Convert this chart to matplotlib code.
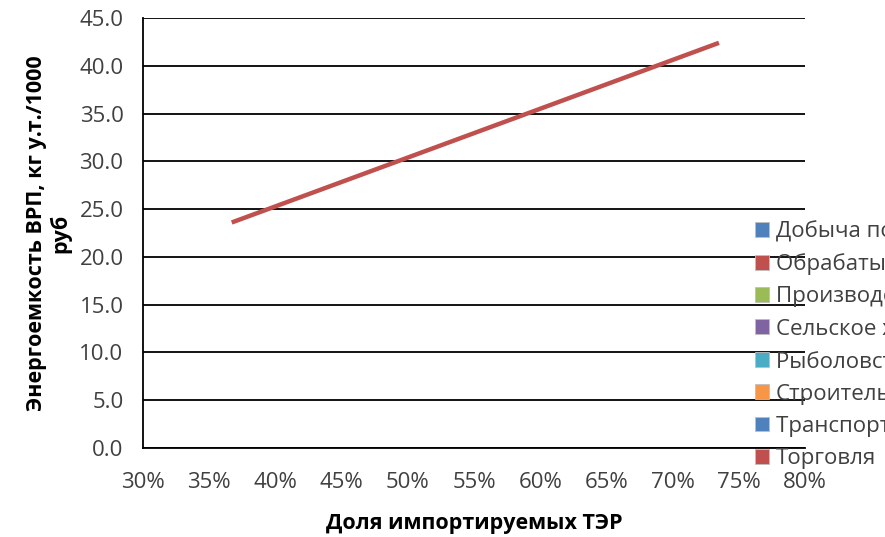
import matplotlib.pyplot as plt
from matplotlib.patches import Patch
from matplotlib.ticker import PercentFormatter

# Energy intensity of GRP vs share of imported fuel and energy resources
import_share = [0.367, 0.735]
energy_intensity = [23.6, 42.4]

sectors = [
    'Добыча полезных ископаемых',
    'Обрабатывающие производства',
    'Производство и распределение электроэнергии, газа и воды',
    'Сельское хозяйство, охота и лесное хозяйство',
    'Рыболовство, рыбоводство',
    'Строительство',
    'Транспорт и связь',
    'Торговля',
]
sector_colors = ['#4F81BD', '#C0504D', '#9BBB59', '#8064A2',
                 '#4BACC6', '#F79646', '#4F81BD', '#C0504D']

plt.rcParams['font.family'] = ['Open Sans', 'DejaVu Sans']

fig = plt.figure(figsize=(8.85, 5.37), dpi=100)
ax = fig.add_axes([143 / 885, 1 - 448 / 537, 662 / 885, 430 / 537])

ax.plot(import_share, energy_intensity, color='#C0504D', linewidth=3.2,
        solid_capstyle='butt', zorder=3)

ax.set_xlim(0.30, 0.80)
ax.set_ylim(0, 45)
ax.set_xticks([0.30 + 0.05 * i for i in range(11)])
ax.set_yticks([5 * i for i in range(10)])
ax.xaxis.set_major_formatter(PercentFormatter(1.0, decimals=0))
ax.yaxis.set_major_formatter(lambda v, pos: f'{v:.1f}')
ax.tick_params(axis='both', length=0, labelsize=16, labelcolor='#404040')
ax.tick_params(axis='x', pad=17)
ax.tick_params(axis='y', pad=14)

ax.grid(axis='y', color='black', linewidth=1.3, zorder=1)
ax.set_axisbelow(True)
for side in ('top', 'right'):
    ax.spines[side].set_visible(False)
for side in ('left', 'bottom'):
    ax.spines[side].set_color('black')
    ax.spines[side].set_linewidth(1.3)

ax.set_ylabel('Энергоемкость ВРП, кг у.т./1000\nруб', fontsize=15.5,
              fontweight='bold', linespacing=1.15)
ax.yaxis.set_label_coords(-0.108, 0.5)
ax.set_xlabel('Доля импортируемых ТЭР', fontsize=15.5, fontweight='bold')
ax.xaxis.set_label_coords(0.5, -0.152)

handles = [Patch(facecolor=c, edgecolor='#BFBFBF', linewidth=0.6)
           for c in sector_colors]
leg = fig.legend(handles, sectors, loc='upper left',
                 bbox_to_anchor=(755 / 885, 1 - 221 / 537),
                 frameon=False, fontsize=16, handlelength=0.65,
                 handleheight=0.65, handletextpad=0.3, labelspacing=0.5,
                 borderaxespad=0, borderpad=0)
for t in leg.get_texts():
    t.set_color('#404040')

fig.savefig('out.png', dpi=100)
